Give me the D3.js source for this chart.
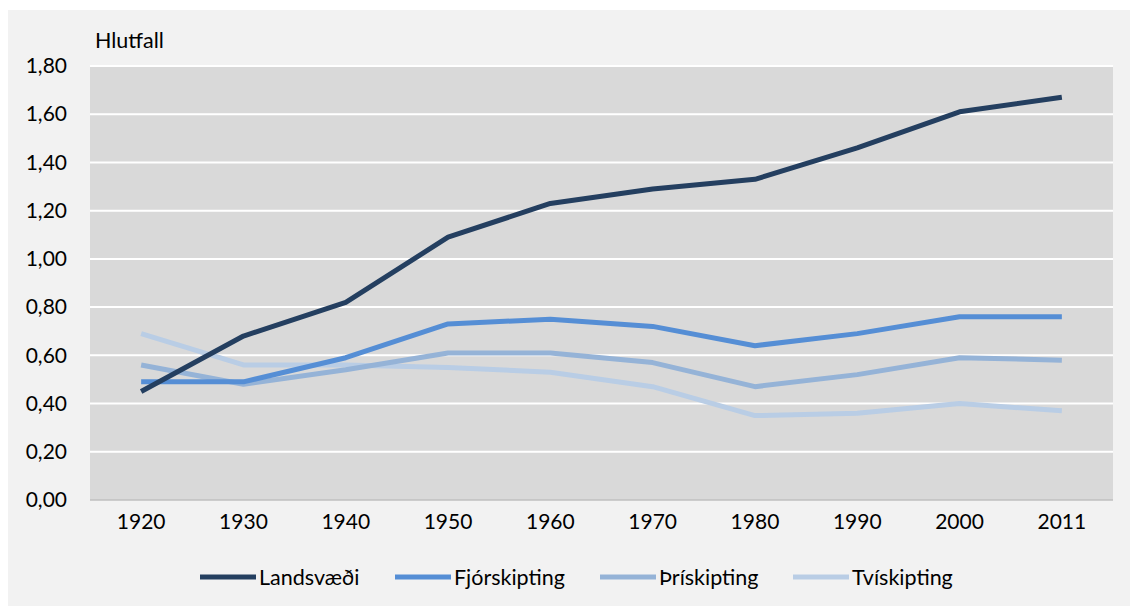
<!DOCTYPE html>
<html>
<head>
<meta charset="utf-8">
<script src="https://cdn.jsdelivr.net/npm/d3@7"></script>
<style>
  html, body { margin: 0; padding: 0; background: #ffffff; }
  svg { display: block; font-family: Lato, 'Open Sans', sans-serif; }
</style>
</head>
<body>
<div id="chart"></div>
<script>
'use strict';

// ── Data ──────────────────────────────────────────────────────────────────
const years = ['1920', '1930', '1940', '1950', '1960', '1970', '1980', '1990', '2000', '2011'];
const seriesNames = ['Landsvæði', 'Fjórskipting', 'Þrískipting', 'Tvískipting'];
const landsvaedi   = [0.45, 0.68, 0.82, 1.09, 1.23, 1.29, 1.33, 1.46, 1.61, 1.67];
const fjorskipting = [0.49, 0.49, 0.59, 0.73, 0.75, 0.72, 0.64, 0.69, 0.76, 0.76];
const thriskipting = [0.56, 0.48, 0.54, 0.61, 0.61, 0.57, 0.47, 0.52, 0.59, 0.58];
const tviskipting  = [0.69, 0.56, 0.56, 0.55, 0.53, 0.47, 0.35, 0.36, 0.40, 0.37];
const yTicks = [0, 0.2, 0.4, 0.6, 0.8, 1.0, 1.2, 1.4, 1.6, 1.8];

const seriesValues = [landsvaedi, fjorskipting, thriskipting, tviskipting];
const colors = ['#243f60', '#558ed5', '#95b3d7', '#b9cde5'];

// ── Layout ────────────────────────────────────────────────────────────────
const width = 1130, height = 606;
const plot = { left: 90, right: 1113, top: 66, bottom: 500 };

const svg = d3.select('#chart').append('svg')
  .attr('width', width).attr('height', height);

svg.append('rect')
  .attr('x', 8).attr('y', 10)
  .attr('width', width - 8).attr('height', height - 10)
  .attr('fill', '#f2f2f2');

const x = d3.scaleBand().domain(years).range([plot.left, plot.right]);
const y = d3.scaleLinear().domain([0, 1.8]).range([plot.bottom, plot.top]);

svg.append('rect')
  .attr('x', plot.left).attr('y', plot.top)
  .attr('width', plot.right - plot.left).attr('height', plot.bottom - plot.top)
  .attr('fill', '#d9d9d9');

// Grid
svg.append('g')
  .selectAll('line')
  .data(yTicks.filter(d => d > 0))
  .join('line')
  .attr('x1', plot.left).attr('x2', plot.right)
  .attr('y1', d => y(d)).attr('y2', d => y(d))
  .attr('stroke', '#ffffff').attr('stroke-width', 2);

// Baseline
svg.append('line')
  .attr('x1', plot.left).attr('x2', plot.right)
  .attr('y1', y(0)).attr('y2', y(0))
  .attr('stroke', '#bfbfbf').attr('stroke-width', 1.5);

// Y axis labels
const yAxis = svg.append('g')
  .attr('transform', `translate(${plot.left},0)`)
  .call(d3.axisLeft(y).tickValues(yTicks).tickSize(0).tickPadding(23)
    .tickFormat(d => d3.format('.2f')(d).replace('.', ',')));
yAxis.select('.domain').remove();
yAxis.selectAll('text')
  .attr('fill', '#000000').attr('font-size', '21px')
  .attr('font-family', 'Lato, sans-serif');

// X axis labels
const xAxis = svg.append('g')
  .attr('transform', `translate(0,${plot.bottom})`)
  .call(d3.axisBottom(x).tickSize(0).tickPadding(14));
xAxis.select('.domain').remove();
xAxis.selectAll('text')
  .attr('fill', '#000000').attr('font-size', '21px')
  .attr('font-family', 'Lato, sans-serif');

// Axis title
svg.append('text')
  .attr('x', 95).attr('y', 48)
  .attr('font-size', '21.5px')
  .attr('fill', '#000000')
  .text('Hlutfall');

// Lines
const line = d3.line()
  .x((d, i) => x(years[i]) + x.bandwidth() / 2)
  .y(d => y(d));

// draw lightest first so dark lines sit on top
[3, 2, 1, 0].forEach(k => {
  svg.append('path')
    .datum(seriesValues[k])
    .attr('fill', 'none')
    .attr('stroke', colors[k])
    .attr('stroke-width', 5)
    .attr('stroke-linejoin', 'round')
    .attr('d', line);
});

// Legend
const legendX = [200, 395, 600, 793];
const legend = svg.append('g');
seriesNames.forEach((name, i) => {
  legend.append('line')
    .attr('x1', legendX[i]).attr('x2', legendX[i] + 56)
    .attr('y1', 577).attr('y2', 577)
    .attr('stroke', colors[i]).attr('stroke-width', 5);
  legend.append('text')
    .attr('x', legendX[i] + 59).attr('y', 577)
    .attr('dominant-baseline', 'central')
    .attr('font-size', '21.5px')
    .attr('fill', '#000000')
    .text(name);
});
</script>
</body>
</html>
